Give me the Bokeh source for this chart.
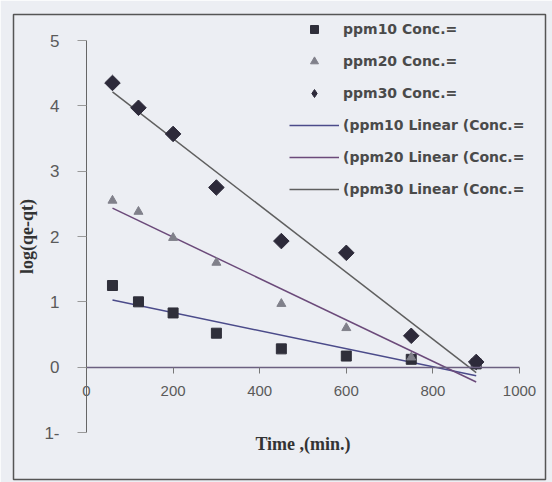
import numpy as np
from bokeh.plotting import figure
from bokeh.models import (LinearAxis, Range1d, Legend, LegendItem, FixedTicker)
from bokeh.embed import file_html
from bokeh.resources import INLINE

# ---- data ----
time_min = [60, 120, 200, 300, 450, 600, 750, 900]
ppm10 = [1.25, 1.00, 0.83, 0.52, 0.28, 0.17, 0.12, 0.05]
ppm20 = [2.55, 2.38, 1.98, 1.60, 0.97, 0.60, 0.15, 0.05]
ppm30 = [4.35, 3.97, 3.57, 2.75, 1.93, 1.75, 0.48, 0.08]
x_ticks = [0, 200, 400, 600, 800, 1000]
y_ticks = [-1, 0, 1, 2, 3, 4, 5]
y_tick_overrides = {-1: "1-"}
marker_labels = ["ppm10 Conc.=", "ppm20 Conc.=", "ppm30 Conc.="]
line_labels = ["(ppm10 Linear (Conc.=", "(ppm20 Linear (Conc.=", "(ppm30 Linear (Conc.="]

W, H = 552, 482
# outer box of the picture (the frame outline) in pixels
BL, BR, BT, BB = 13, 545, 14, 479
# plot area placement (pixels): x 0..1000 -> 86..519, y 5..-1 -> 40..432
PX0, PX1, PY0, PY1 = 86.0, 519.0, 40.0, 432.0
sx = (PX1 - PX0) / 1000.0
sy = (PY1 - PY0) / 6.0


def px_to_x(px):
    return (px - PX0) / sx


def py_to_y(py):
    return 5 - (py - PY0) / sy


x_rng = Range1d(px_to_x(BL), px_to_x(BR))
y_rng = Range1d(py_to_y(BB), py_to_y(BT))

BG = "#eceef3"
p = figure(width=W, height=H, x_range=x_rng, y_range=y_rng,
           x_axis_location=None, y_axis_location=None,
           output_backend="svg", toolbar_location=None,
           min_border_left=BL, min_border_right=W - BR,
           min_border_top=BT, min_border_bottom=H - BB,
           background_fill_color=BG, border_fill_color=BG)
p.grid.visible = False
p.outline_line_color = "#555555"
p.outline_line_width = 1.5
p.outline_line_alpha = 1.0

# axes crossing at zero
xaxis = LinearAxis(fixed_location=0, ticker=FixedTicker(ticks=x_ticks), bounds=(0, 1000),
                   axis_label="Time ,(min.)")
yaxis = LinearAxis(fixed_location=0, ticker=FixedTicker(ticks=y_ticks), bounds=(-1, 5),
                   axis_label="log(qe-qt)", major_label_overrides=y_tick_overrides)
for ax in (xaxis, yaxis):
    ax.minor_tick_line_color = None
    ax.major_tick_in = 0
    ax.major_label_text_font = "Liberation Sans"
    ax.major_label_text_color = "#5a5a5a"
    ax.axis_label_text_font = "Liberation Serif"
    ax.axis_label_text_font_style = "bold"
    ax.axis_label_text_color = "#333333"
    ax.axis_label_text_font_size = "18px"
xaxis.major_tick_out = 6
xaxis.major_label_text_font_size = "15px"
xaxis.major_label_standoff = 13
xaxis.axis_label_standoff = 34
xaxis.axis_line_color = "#6b6080"
xaxis.axis_line_width = 1.5
xaxis.major_tick_line_color = "#777777"
yaxis.major_tick_out = 9
yaxis.major_label_text_font_size = "17px"
yaxis.major_label_standoff = 18
yaxis.axis_label_standoff = 4
yaxis.axis_line_color = "#666666"
yaxis.major_tick_line_color = "#999999"
p.add_layout(xaxis, "below")
p.add_layout(yaxis, "left")

# trend lines (least squares fits of each series)
xs = np.array(time_min, dtype=float)
line_colors = ["#4b4b8a", "#6b4a7a", "#5f5f5f"]
line_rs = []
for ys, col in zip([ppm10, ppm20, ppm30], line_colors):
    k, b = np.polyfit(xs, np.array(ys), 1)
    xe = [time_min[0], time_min[-1]]
    r = p.line(xe, [k * xe[0] + b, k * xe[1] + b], line_color=col, line_width=1.5)
    line_rs.append(r)

# markers
r10 = p.scatter(time_min, ppm10, marker="square", size=10,
                fill_color="#2f2f3a", line_color="#2f2f3a")
r20 = p.scatter(time_min, ppm20, marker="triangle", size=9,
                fill_color="#80808a", line_color="#80808a")
# diamond symbol used for the legend (hidden under the plotted diamonds)
r30_leg = p.scatter(time_min, ppm30, marker="diamond", size=10,
                    fill_color="#2d2a3a", line_color="#2d2a3a")
r30 = p.scatter(time_min, ppm30, marker="square", size=11, angle=np.pi / 4,
                fill_color="#2d2a3a", line_color="#2d2a3a")

items = [LegendItem(label=marker_labels[0], renderers=[r10]),
         LegendItem(label=marker_labels[1], renderers=[r20]),
         LegendItem(label=marker_labels[2], renderers=[r30_leg])]
items += [LegendItem(label=lab, renderers=[r]) for lab, r in zip(line_labels, line_rs)]
legend = Legend(items=items, location=(289 - BL, BB - 199), padding=0, margin=0, spacing=12,
                glyph_height=20, glyph_width=50, label_height=20, label_standoff=4,
                border_line_color=None, background_fill_alpha=0,
                label_text_font="DejaVu Sans", label_text_font_style="bold",
                label_text_font_size="14px", label_text_color="#4a4a4a")
p.add_layout(legend, "center")

open("out.html", "w").write(file_html(p, INLINE))
